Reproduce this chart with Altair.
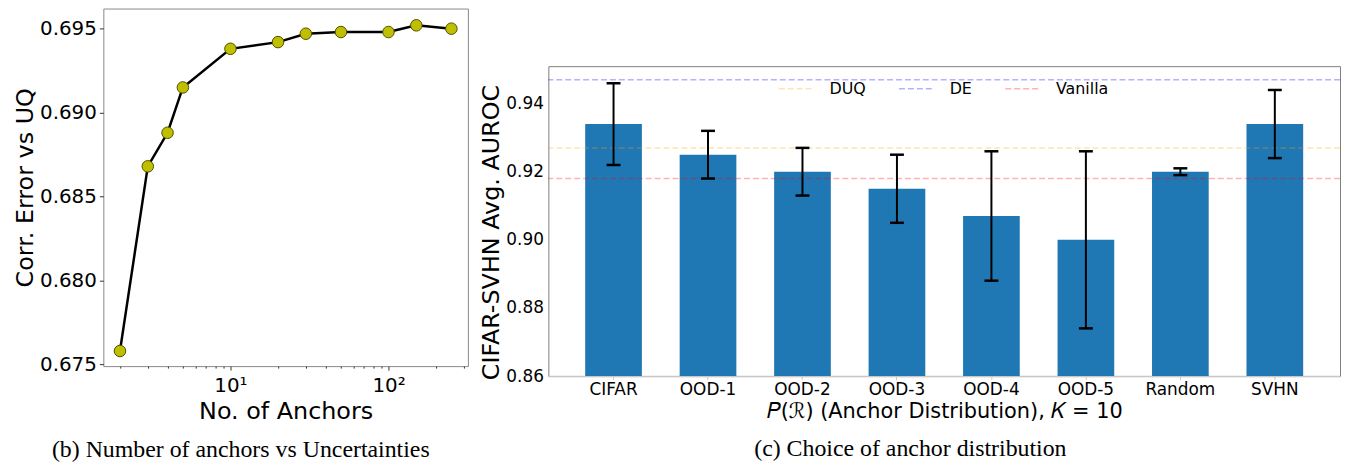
import altair as alt
import pandas as pd

# ---------------- data: panel (b) ----------------
anchors = [2, 3, 4, 5, 10, 20, 30, 50, 100, 150, 250]
corr_err_uq = [0.6758, 0.6868, 0.6888, 0.6915, 0.6938, 0.6942, 0.6947, 0.6948, 0.6948, 0.6952, 0.6950]
log_tick_values = [2, 3, 4, 5, 6, 7, 8, 9, 10, 20, 30, 40, 50, 60, 70, 80, 90, 100, 200, 300]
y_left_ticks = [0.675, 0.680, 0.685, 0.690, 0.695]

# ---------------- data: panel (c) ----------------
dists = ["CIFAR", "OOD-1", "OOD-2", "OOD-3", "OOD-4", "OOD-5", "Random", "SVHN"]
auroc = [0.934, 0.925, 0.920, 0.915, 0.907, 0.900, 0.920, 0.934]
err_lo = [0.922, 0.918, 0.913, 0.905, 0.888, 0.874, 0.919, 0.924]
err_hi = [0.946, 0.932, 0.927, 0.925, 0.926, 0.926, 0.921, 0.944]
base_names = ["DUQ", "DE", "Vanilla"]
base_vals = [0.927, 0.947, 0.918]
base_colors = ["#ffa500", "#0000ff", "#ff0000"]
y_right_ticks = [0.86, 0.88, 0.90, 0.92, 0.94]
y_right_min = 0.86

FONT = "DejaVu Sans"
SERIF = "Liberation Serif"

# ---------------- panel (b) ----------------
df_l = pd.DataFrame({"n": anchors, "c": corr_err_uq})

x_left = alt.X(
    "n:Q",
    scale=alt.Scale(type="log", domain=[1.57, 318], nice=False),
    axis=alt.Axis(
        values=log_tick_values,
        labelExpr="datum.value == 10 ? '10\u00b9' : (datum.value == 100 ? '10\u00b2' : '')",
        labelOverlap=False,
        tickSize={"condition": {"test": "datum.value == 10 || datum.value == 100", "value": 4}, "value": 2},
        tickColor="#333333",
        labelFontSize=20,
        labelPadding=6,
        labelFont=FONT,
        labelColor="black",
        title="No. of Anchors",
        titleFontSize=24,
        titleFont=FONT,
        titleFontWeight="normal",
        titlePadding=4,
        titleColor="black",
        grid=False,
        domain=False,
    ),
)
y_left = alt.Y(
    "c:Q",
    scale=alt.Scale(domain=[0.6749, 0.6962], nice=False, zero=False),
    axis=alt.Axis(
        values=y_left_ticks,
        format=".3f",
        tickSize=4,
        tickColor="#333333",
        labelFontSize=20,
        labelPadding=3,
        labelFont=FONT,
        labelColor="black",
        title="Corr. Error vs UQ",
        titleFontSize=24,
        titleFont=FONT,
        titleFontWeight="normal",
        titlePadding=2,
        titleColor="black",
        grid=False,
        domain=False,
    ),
)

base_l = alt.Chart(df_l).encode(x=x_left, y=y_left)
left = (
    base_l.mark_line(color="black", strokeWidth=2.5)
    + base_l.mark_circle(size=135, color="#bfbf00", opacity=1, stroke="#505000", strokeWidth=1)
).properties(
    width=367,
    height=360,
    view=alt.ViewBackground(stroke="#888888", strokeWidth=1),
    title=alt.TitleParams(
        "(b) Number of anchors vs Uncertainties",
        orient="bottom",
        anchor="middle",
        frame="bounds",
        font=SERIF,
        fontSize=24,
        fontWeight="normal",
        color="black",
        offset=14,
    ),
)

# ---------------- panel (c) ----------------
df_r = pd.DataFrame({"d": dists, "v": auroc, "lo": err_lo, "hi": err_hi})
df_b = pd.DataFrame({"name": base_names, "val": base_vals})

y_scale = alt.Scale(domain=[0.86, 0.951], nice=False, zero=False)
y_axis = alt.Axis(
    values=y_right_ticks,
    format=".2f",
    ticks=False,
    labelFontSize=17,
    labelPadding=5,
    labelFont=FONT,
    labelColor="black",
    title="CIFAR-SVHN Avg. AUROC",
    titleFontSize=24,
    titleFont=FONT,
    titleFontWeight="normal",
    titlePadding=2,
    titleColor="black",
    titleY=167,
    grid=False,
    domain=False,
)
x_right = alt.X(
    "d:N",
    sort=dists,
    scale=alt.Scale(paddingInner=0.4, paddingOuter=0.39),
    axis=alt.Axis(
        labelAngle=0,
        labelFontSize=17,
        labelPadding=2,
        labelFont=FONT,
        labelColor="black",
        tickSize=3.5,
        tickColor="#c8c8c8",
        domainColor="#c8c8c8",
        domainWidth=1.5,
        title="\U0001D443(\u211B) (Anchor Distribution), \U0001D43E = 10",
        titleFontSize=21,
        titleFont=FONT,
        titleFontWeight="normal",
        titlePadding=3,
        titleColor="black",
        grid=False,
    ),
)

bars = alt.Chart(df_r).mark_bar(color="#1f77b4").encode(
    x=x_right,
    y=alt.Y("v:Q", scale=y_scale, axis=y_axis),
    y2=alt.datum(y_right_min),
)
ref_lines = alt.Chart(df_b).mark_rule(strokeDash=[6, 3], strokeWidth=1.5, opacity=0.3).encode(
    y=alt.Y("val:Q", scale=y_scale, axis=y_axis),
    color=alt.Color(
        "name:N",
        sort=base_names,
        scale=alt.Scale(domain=base_names, range=base_colors),
        legend=alt.Legend(
            orient="none",
            legendX=231,
            legendY=4,
            direction="horizontal",
            title=None,
            symbolType="stroke",
            symbolSize=1225,
            symbolStrokeWidth=1.5,
            symbolDash=[6, 3],
            symbolOpacity=0.3,
            labelFontSize=16,
            labelFont=FONT,
            labelColor="black",
            labelOffset=15,
            columnPadding=30,
            padding=0,
        ),
    ),
)
err_rules = alt.Chart(df_r).mark_rule(color="black", strokeWidth=2).encode(
    x=x_right,
    y=alt.Y("lo:Q", scale=y_scale, axis=y_axis),
    y2="hi:Q",
)
cap_lo = alt.Chart(df_r).mark_tick(color="black", thickness=2.5, size=14, opacity=1).encode(
    x=x_right, y=alt.Y("lo:Q", scale=y_scale, axis=y_axis)
)
cap_hi = alt.Chart(df_r).mark_tick(color="black", thickness=2.5, size=14, opacity=1).encode(
    x=x_right, y=alt.Y("hi:Q", scale=y_scale, axis=y_axis)
)

right_plot = alt.layer(bars, ref_lines, err_rules, cap_lo, cap_hi).properties(
    width=797,
    height=312,
    view=alt.ViewBackground(stroke="#7f7f7f", strokeWidth=1),
    title=alt.TitleParams(
        "(c) Choice of anchor distribution",
        orient="bottom",
        anchor="middle",
        frame="bounds",
        font=SERIF,
        fontSize=24,
        fontWeight="normal",
        color="black",
        offset=16,
    ),
)

spacer = alt.Chart(pd.DataFrame({"z": [0]})).mark_rect(opacity=0).encode(
    x=alt.value(0), x2=alt.value(2), y=alt.value(0), y2=alt.value(2)
).properties(width=10, height=57, view=alt.ViewBackground(stroke=None))

right = (
    alt.vconcat(spacer, right_plot, spacing=0)
    .resolve_scale(color="independent")
    .resolve_legend(color="independent")
)

chart = (
    alt.hconcat(left, right, spacing=10)
    .resolve_scale(color="independent")
    .resolve_legend(color="independent")
    .properties(padding={"left": 5, "top": -2, "right": 0, "bottom": 0})
    .configure(background="white")
)

chart.save("out.html", embed_options={"renderer": "svg", "actions": False})
